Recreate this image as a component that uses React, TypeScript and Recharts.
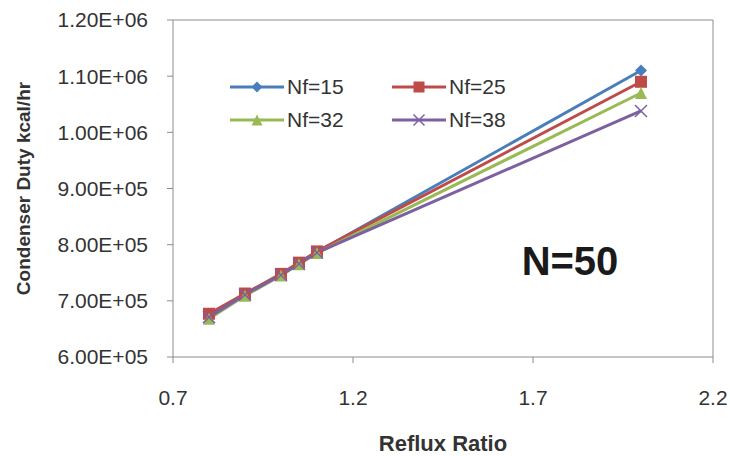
import { ComposedChart, Line, XAxis, YAxis, ReferenceLine, Label } from 'recharts'

const refluxRatio = [0.8, 0.9, 1.0, 1.05, 1.1, 2.0]
const nf15 = [674000, 712000, 747000, 767000, 787000, 1110000]
const nf25 = [677000, 713000, 748000, 768000, 788000, 1090000]
const nf32 = [668000, 709000, 745000, 765000, 785000, 1070000]
const nf38 = [671000, 711000, 746000, 766000, 786000, 1038000]

const xTicks = [0.7, 1.2, 1.7, 2.2]
const yTicks = [600000, 700000, 800000, 900000, 1000000, 1100000, 1200000]

const SERIES = [
  { key: 'nf15', name: 'Nf=15', colour: '#4A7EBB', shape: 'diamond' },
  { key: 'nf25', name: 'Nf=25', colour: '#BE4B48', shape: 'square' },
  { key: 'nf32', name: 'Nf=32', colour: '#98B954', shape: 'triangle' },
  { key: 'nf38', name: 'Nf=38', colour: '#7D60A0', shape: 'cross' },
]

const data = refluxRatio.map((r, i) => ({
  r,
  nf15: nf15[i],
  nf25: nf25[i],
  nf32: nf32[i],
  nf38: nf38[i],
}))

const FONT = '"Liberation Sans", Arial, sans-serif'
const AXIS = '#8c8c8c'

// Excel style exponent: 1.20E+06
function sci(v: number) {
  const [m, e] = v.toExponential(2).split('e')
  return `${m}E${e[0]}${e.slice(1).padStart(2, '0')}`
}

function Marker({ cx, cy, shape, colour, size = 12 }: { cx: number; cy: number; shape: string; colour: string; size?: number }) {
  const h = size / 2
  if (shape === 'diamond')
    return <polygon points={`${cx},${cy - h} ${cx + h},${cy} ${cx},${cy + h} ${cx - h},${cy}`} fill={colour} />
  if (shape === 'square')
    return <rect x={cx - h} y={cy - h} width={size} height={size} fill={colour} />
  if (shape === 'triangle')
    return <polygon points={`${cx},${cy - h} ${cx + h},${cy + h} ${cx - h},${cy + h}`} fill={colour} />
  return (
    <g stroke={colour} strokeWidth={1.5}>
      <line x1={cx - h} y1={cy - h} x2={cx + h} y2={cy + h} />
      <line x1={cx - h} y1={cy + h} x2={cx + h} y2={cy - h} />
    </g>
  )
}

function LegendBox() {
  return (
    <div style={{ position: 'absolute', left: 230, top: 75, display: 'grid', gridTemplateColumns: '162px 130px', rowGap: 9, fontFamily: FONT, fontSize: 21, color: '#333' }}>
      {SERIES.map((s) => (
        <div key={s.key} style={{ display: 'flex', alignItems: 'center', height: 24 }}>
          <svg width={54} height={20} style={{ marginRight: 3 }}>
            <line x1={0} y1={10} x2={54} y2={10} stroke={s.colour} strokeWidth={3} />
            <Marker cx={27} cy={10} shape={s.shape} colour={s.colour} size={11} />
          </svg>
          <span>{s.name}</span>
        </div>
      ))}
    </div>
  )
}

function YTitle({ viewBox }: any) {
  const cx = 23
  const cy = viewBox.y + viewBox.height / 2
  return (
    <text
      x={cx}
      y={cy}
      transform={`rotate(-90, ${cx}, ${cy})`}
      textAnchor="middle"
      dominantBaseline="central"
      style={{ fontSize: 19, fontWeight: 'bold', fontFamily: FONT, fill: '#333' }}
    >
      Condenser Duty kcal/hr
    </text>
  )
}

export default function App() {
  return (
    <div style={{ position: 'absolute', left: 0, top: 0, width: 730, height: 456, background: '#fff' }}>
      <ComposedChart width={730} height={456} data={data} margin={{ top: 20, right: 17, left: 0, bottom: 0 }}>
        <XAxis
          dataKey="r"
          type="number"
          domain={[0.7, 2.2]}
          ticks={xTicks}
          tickFormatter={(v: number) => v.toFixed(1)}
          height={99}
          stroke={AXIS}
          tickSize={6}
          tickMargin={27}
          tick={{ fontSize: 21, fontFamily: FONT, fill: '#333' }}
        >
          <Label value="Reflux Ratio" position="insideBottom" offset={5} style={{ fontSize: 22, fontWeight: 'bold', fontFamily: FONT, fill: '#333' }} />
        </XAxis>
        <YAxis
          type="number"
          domain={[600000, 1200000]}
          ticks={yTicks}
          tickFormatter={sci}
          width={173}
          stroke={AXIS}
          tickSize={6}
          tickMargin={19}
          tick={{ fontSize: 21, fontFamily: FONT, fill: '#333' }}
        >
          <Label content={<YTitle />} />
        </YAxis>
        <ReferenceLine y={1200000} stroke={AXIS} />
        <ReferenceLine x={2.2} stroke={AXIS} />
        {SERIES.map((s) => (
          <Line
            key={s.key}
            dataKey={s.key}
            name={s.name}
            stroke={s.colour}
            strokeWidth={3}
            isAnimationActive={false}
            dot={(p: any) => <Marker key={`${s.key}-${p.index}`} cx={p.cx} cy={p.cy} shape={s.shape} colour={s.colour} />}
            activeDot={false}
          />
        ))}
      </ComposedChart>
      <LegendBox />
      <div style={{ position: 'absolute', left: 490, top: 239, width: 160, textAlign: 'center', fontFamily: FONT, fontWeight: 'bold', fontSize: 40, color: '#1a1a1a' }}>
        N=50
      </div>
    </div>
  )
}
